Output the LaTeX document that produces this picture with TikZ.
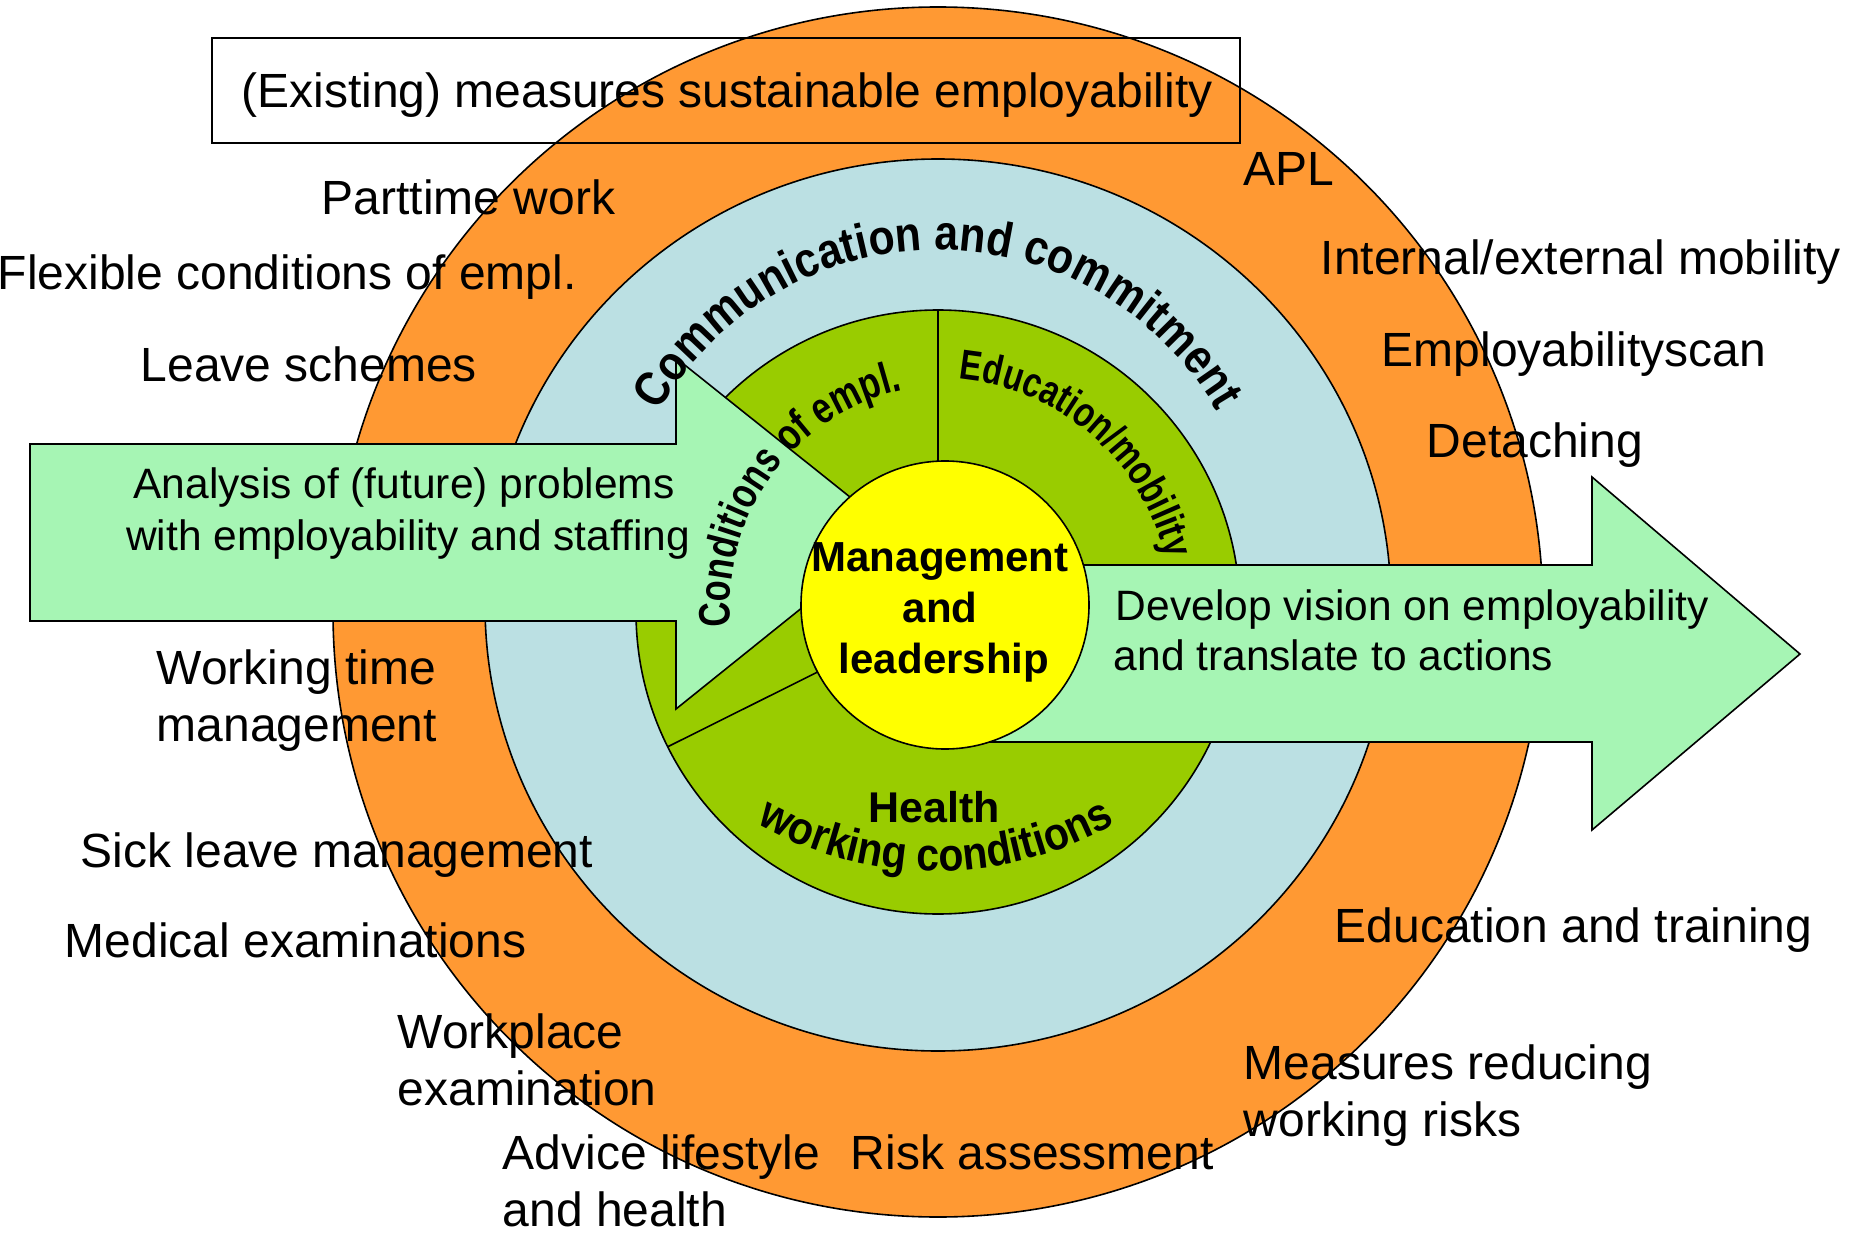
\documentclass[tikz,border=0pt]{standalone}
\usepackage{fontspec}
\setmainfont{Liberation Sans}
\newfontfamily\commfont{Liberation Sans}[FakeStretch=0.87]
\newfontfamily\condfont{Liberation Sans}[FakeStretch=0.78]
\newfontfamily\workfont{Liberation Sans}[FakeStretch=0.89]
\usetikzlibrary{decorations.text,calc}
\definecolor{ringorange}{RGB}{255,153,51}
\definecolor{ringblue}{RGB}{187,224,227}
\definecolor{ringgreen}{RGB}{153,204,0}
\definecolor{arrowgreen}{RGB}{166,245,180}
\definecolor{hubyellow}{RGB}{255,255,0}
\newcommand\lblfont{\fontsize{48}{48}\selectfont}
\newcommand\arrfont{\fontsize{42.5}{42.5}\selectfont}
\newcommand\hubfont{\fontsize{42}{42}\selectfont\bfseries}
\begin{document}
\begin{tikzpicture}[x=1pt,y=-1pt,line width=1.6pt,
  lbl/.style={anchor=base west,inner sep=0pt,font=\lblfont},
  arrtxt/.style={anchor=base,inner sep=0pt,font=\arrfont},
  arrtxtl/.style={anchor=base west,inner sep=0pt,font=\arrfont},
  hubtxt/.style={anchor=base,inner sep=0pt,font=\hubfont},
  ring/.style={draw=black,line width=1.6pt},
  bigarrow/.style={draw=black,fill=arrowgreen,line width=1.6pt,line join=miter}]
\fill[white] (0,0) rectangle (1858,1233);
\useasboundingbox (0,0) rectangle (1858,1233);

% rings
\coordinate (O) at (938,612);
\coordinate (OB) at (938,605);
\coordinate (OY) at (945,605);
\draw[ring,fill=ringorange] (O) circle[radius=605];
\draw[ring,fill=ringblue] (OB) ellipse[x radius=453,y radius=446];
\draw[ring,fill=ringgreen] (O) circle[radius=302];
\coordinate (gtop) at (938,310);
\draw[ring] (gtop) -- (O);
\coordinate (gdiv) at ($(O)+(-206.5:302)$);
\draw[ring] (O) -- (gdiv);

% title box
\coordinate (boxa) at (212,38);
\coordinate (boxb) at (1240,143);
\draw[line width=1.6pt] (boxa) rectangle (boxb);
\node[anchor=base,inner sep=0pt,font=\lblfont] (title) at (727,108) {(Existing) measures sustainable employability};

% arrows
\draw[bigarrow] (30,444) -- (676,444) -- (676,358) -- (895,533) -- (676,709) -- (676,621) -- (30,621) -- cycle;
\draw[bigarrow] (945,565) -- (1592,565) -- (1592,477) -- (1800,654) -- (1592,830) -- (1592,742) -- (945,742) -- cycle;

% hub
\draw[ring,fill=hubyellow] (OY) circle[radius=144];
\node[hubtxt] (hub1) at (940,571) {Management};
\node[hubtxt] (hub2) at (940,622) {and};
\node[hubtxt] (hub3) at (944,673) {leadership};
\node[hubtxt,font=\fontsize{43}{43}\selectfont\bfseries] (health) at (934,822) {Health};

% curved texts
\path[decorate,decoration={text along path,text align=center,
  text={|\commfont\bfseries\fontsize{49}{49}\selectfont|Communication and commitment}}]
  (938,572) ++(-168:322) arc[start angle=-168,end angle=-12,radius=322];
\path[decorate,decoration={text along path,text align=center,
  text={|\condfont\bfseries\fontsize{44}{44}\selectfont|Conditions of empl.}}]
  (950,605) ++(-198:220) arc[start angle=-198,end angle=-90,radius=220];
\path[decorate,decoration={text along path,text align=center,
  text={|\condfont\bfseries\fontsize{42}{42}\selectfont|Education/mobility}}]
  (938,612) ++(-97:234) arc[start angle=-97,end angle=-1,radius=234];
\path[decorate,decoration={text along path,text align=center,
  text={|\workfont\bfseries\fontsize{46}{46}\selectfont|working conditions}}]
  (936,511) ++(-222:360) arc[start angle=-222,end angle=-318,radius=360];

% arrow texts
\node[arrtxt] (an1) at (404,498) {Analysis of (future) problems};
\node[arrtxt] (an2) at (408,550) {with employability and staffing};
\node[arrtxtl] (dv1) at (1115,620) {Develop vision on employability};
\node[arrtxtl] (dv2) at (1113,670) {and translate to actions};

% outer labels left
\node[lbl] (l1) at (321,215) {Parttime work};
\node[lbl] (l2) at (-3,290) {Flexible conditions of empl.};
\node[lbl] (l3) at (140,381) {Leave schemes};
\node[lbl] (l4a) at (156,684) {Working time};
\node[lbl] (l4b) at (156,741) {management};
\node[lbl] (l5) at (80,867) {Sick leave management};
\node[lbl] (l6) at (64,957) {Medical examinations};
\node[lbl] (l7a) at (397,1048) {Workplace};
\node[lbl] (l7b) at (397,1105) {examination};
\node[lbl] (l8a) at (502,1169) {Advice lifestyle};
\node[lbl] (l8b) at (502,1226) {and health};
\node[lbl] (l9) at (850,1169) {Risk assessment};
% outer labels right
\node[lbl] (r1) at (1243,186) {APL};
\node[lbl] (r2) at (1320,275) {Internal/external mobility};
\node[lbl] (r3) at (1381,366) {Employabilityscan};
\node[lbl] (r4) at (1426,457) {Detaching};
\node[lbl] (r5) at (1334,942) {Education and training};
\node[lbl] (r6a) at (1243,1079) {Measures reducing};
\node[lbl] (r6b) at (1243,1136) {working risks};
\end{tikzpicture}
\end{document}
